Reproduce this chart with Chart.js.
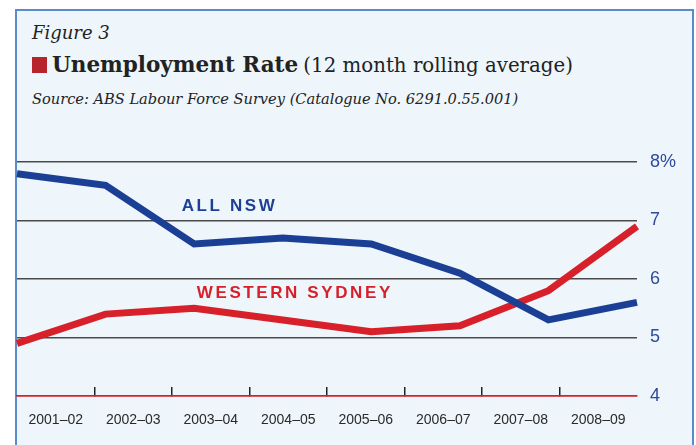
<!DOCTYPE html>
<html>
<head>
<meta charset="utf-8">
<script src="https://cdn.jsdelivr.net/npm/chart.js@4"></script>
<style>
  html, body { margin: 0; padding: 0; background: #fff; }
  #wrap { position: relative; width: 696px; height: 445px; overflow: hidden; }
  #frame {
    position: absolute; left: 15px; top: 9px; width: 675px; height: 460px;
    background: #eef6fb; border: 2px solid #5a8ccc;
  }
  .fig { position: absolute; left: 32px; top: 22px; font: italic 18px "DejaVu Serif", serif; color: #222; }
  .title { position: absolute; left: 32px; top: 52px; color: #222; font-family: "DejaVu Serif", serif; white-space: nowrap; }
  .title .sq { display: inline-block; width: 15px; height: 16px; background: #b7242c; margin-right: 5px; vertical-align: -1px; }
  .title b { font-size: 21.5px; }
  .title span.sub { font-size: 19.8px; }
  .src { position: absolute; left: 32px; top: 90px; font: italic 14.6px "DejaVu Serif", serif; color: #222; white-space: nowrap; }
  #chart { position: absolute; left: 0; top: 0; }
</style>
</head>
<body>
<div id="wrap">
  <div id="frame"></div>
  <div class="fig">Figure 3</div>
  <div class="title"><span class="sq"></span><b>Unemployment Rate</b> <span class="sub">(12 month rolling average)</span></div>
  <div class="src">Source: ABS Labour Force Survey (Catalogue No. 6291.0.55.001)</div>
  <canvas id="chart" width="696" height="445"></canvas>
</div>
<script>
// Financial years shown under the axis
const years = ['2001–02', '2002–03', '2003–04', '2004–05', '2005–06', '2006–07', '2007–08', '2008–09'];

// Unemployment rate, %
const allNsw = [7.8, 7.6, 6.6, 6.7, 6.6, 6.1, 5.3, 5.6];
const westernSydney = [4.9, 5.4, 5.5, 5.3, 5.1, 5.2, 5.8, 6.9];

// y axis ticks
const yTicks = [4, 5, 6, 7, 8];

// series name labels placed inside the plot (index along x, value on y)
const seriesLabels = [
    { text: 'ALL NSW', x: 1.86, y: 7.24, color: '#1d3f94' },
    { text: 'WESTERN SYDNEY', x: 2.03, y: 5.76, color: '#d7202a' }
];

const BLUE = '#1b3f94';
const RED = '#d7202a';

// draws the series names
const labelPlugin = {
    id: 'seriesLabels',
    afterDatasetsDraw(chart) {
        const { ctx, scales } = chart;
        ctx.save();
        ctx.font = 'bold 17px "Liberation Sans", Arial, sans-serif';
        ctx.letterSpacing = '2.6px';
        ctx.textBaseline = 'middle';
        ctx.textAlign = 'left';
        seriesLabels.forEach(l => {
            ctx.fillStyle = l.color;
            ctx.fillText(l.text, scales.x.getPixelForValue(l.x), scales.y.getPixelForValue(l.y));
        });
        ctx.restore();
    }
};

new Chart(document.getElementById('chart').getContext('2d'), {
    type: 'line',
    data: {
        labels: years,
        datasets: [
            {
                label: 'All NSW',
                data: allNsw,
                borderColor: BLUE,
                borderWidth: 7,
                pointRadius: 0,
                tension: 0,
                xAxisID: 'x'
            },
            {
                label: 'Western Sydney',
                data: westernSydney,
                borderColor: RED,
                borderWidth: 7,
                pointRadius: 0,
                tension: 0,
                xAxisID: 'x'
            }
        ]
    },
    options: {
        responsive: false,
        animation: false,
        layout: { padding: { left: 17, top: 162, right: 0, bottom: 0 } },
        plugins: {
            legend: { display: false },
            tooltip: { enabled: false }
        },
        scales: {
            // data axis: points run edge to edge
            x: {
                type: 'category',
                display: false,
                offset: false
            },
            // label axis: years sit in bins, ticks between them
            x2: {
                type: 'category',
                position: 'bottom',
                offset: true,
                afterFit: s => { s.height = 49; s.paddingLeft = 0; s.paddingRight = 0; },
                ticks: {
                    color: '#2a2a2a',
                    font: { family: '"Liberation Sans", Arial, sans-serif', size: 14 },
                    padding: 25,
                    maxRotation: 0,
                    autoSkip: false
                },
                grid: {
                    offset: true,
                    drawOnChartArea: false,
                    drawTicks: true,
                    tickLength: -9,
                    color: c => (c.tick && c.index > 0) ? '#222' : 'rgba(0,0,0,0)',
                    lineWidth: 1.5
                },
                border: { display: true, color: RED, width: 1.5 }
            },
            y: {
                position: 'right',
                min: 4,
                max: 8,
                afterBuildTicks: s => { s.ticks = yTicks.map(v => ({ value: v })); },
                afterFit: s => { s.width = 59; },
                ticks: {
                    callback: v => v === 8 ? '8%' : String(v),
                    color: '#2d4a9b',
                    font: { family: '"Liberation Sans", Arial, sans-serif', size: 18 },
                    padding: 13
                },
                grid: {
                    drawTicks: false,
                    color: c => c.tick && c.tick.value === 4 ? RED : '#4a4a4a',
                    lineWidth: 1.5
                },
                border: { display: false }
            }
        }
    },
    plugins: [labelPlugin]
});
</script>
</body>
</html>
